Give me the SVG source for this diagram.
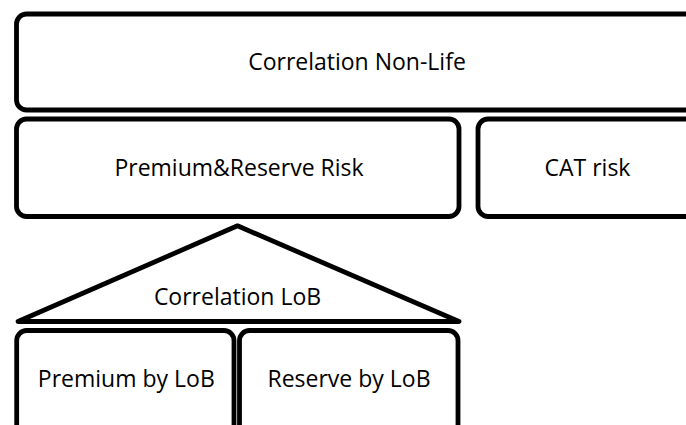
<svg xmlns="http://www.w3.org/2000/svg" width="686" height="425" viewBox="0 0 686 425">
  <style>
    .box { fill: #ffffff; stroke: #000000; stroke-width: 4.8; }
    .tri { fill: #ffffff; stroke: #000000; stroke-width: 4.8; stroke-linejoin: round; }
    .lbl { font-family: "Open Sans", "Liberation Sans", sans-serif; font-size: 23px; fill: #000000; text-anchor: middle; }
  </style>
  <rect width="686" height="425" fill="#ffffff"/>

  <g id="correlation-non-life">
    <rect class="box" x="16.5" y="14" width="682" height="96" rx="10" ry="10"/>
    <text class="lbl" x="357" y="69.5">Correlation Non-Life</text>
  </g>

  <g id="premium-reserve-risk">
    <rect class="box" x="16.5" y="119" width="442.5" height="97.5" rx="10" ry="10"/>
    <text class="lbl" x="239" y="176">Premium&amp;Reserve Risk</text>
  </g>

  <g id="cat-risk">
    <rect class="box" x="478" y="119" width="220" height="97.5" rx="10" ry="10"/>
    <text class="lbl" x="587.5" y="176">CAT risk</text>
  </g>

  <g id="correlation-lob">
    <polygon class="tri" points="18,321.5 237.5,225.8 459,321.5"/>
    <text class="lbl" x="237.5" y="305">Correlation LoB</text>
  </g>

  <g id="premium-by-lob">
    <rect class="box" x="16.7" y="330.5" width="217.3" height="110" rx="10" ry="10"/>
    <text class="lbl" x="126.3" y="387">Premium by LoB</text>
  </g>

  <g id="reserve-by-lob">
    <rect class="box" x="239.5" y="330.5" width="218.5" height="110" rx="10" ry="10"/>
    <text class="lbl" x="349" y="387">Reserve by LoB</text>
  </g>

  <g id="connectors"></g>
</svg>
